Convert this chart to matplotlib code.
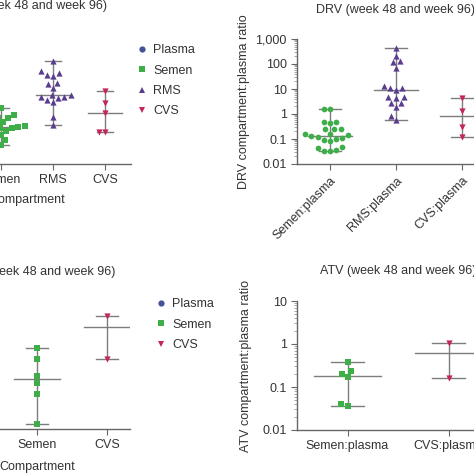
import numpy as np
import matplotlib
matplotlib.use("Agg")
import matplotlib.pyplot as plt
from matplotlib.lines import Line2D
from matplotlib.ticker import FuncFormatter, LogLocator, NullFormatter

plt.rcParams['font.family'] = ['Liberation Sans', 'DejaVu Sans']
plt.rcParams['font.size'] = 9

# --- data ---
# top left: DRV concentrations by compartment (y axis is cut off, values estimated)
tl_cats = ["Plasma", "Semen", "RMS", "CVS"]
tl_semen = [1740, 900, 900, 690, 690, 480, 480, 480, 330, 330, 330, 300,
            280, 280, 280, 210, 210, 145, 145, 90, 58, 58]
tl_rms = [130000, 52000, 44000, 36000, 33000, 17000, 16000, 11000, 5800,
          5800, 4800, 4800, 4400, 3600, 3000, 760, 360]
tl_cvs = [8300, 2750, 1100, 190, 190]

# top right: DRV compartment:plasma ratio
tr_cats = ["Semen:plasma", "RMS:plasma", "CVS:plasma"]
tr_semen = [1.6, 1.6, 0.5, 0.5, 0.45, 0.25, 0.25, 0.24, 0.16, 0.16, 0.14,
            0.13, 0.12, 0.11, 0.1, 0.09, 0.08, 0.048, 0.045, 0.035, 0.034, 0.033]
tr_rms = [440, 210, 130, 120, 70, 13, 11, 11, 9, 4.8, 4.8, 4.4, 2.8, 2.8,
          1.9, 0.83, 0.58]
tr_cvs = [4.2, 1.3, 0.3, 0.12]

# bottom left: ATV concentrations by compartment
bl_cats = ["Plasma", "Semen", "CVS"]
bl_semen = [760, 425, 170, 117, 65, 13]
bl_cvs = [4200, 425]

# bottom right: ATV compartment:plasma ratio
br_cats = ["Semen:plasma", "CVS:plasma"]
br_semen = [0.38, 0.23, 0.20, 0.17, 0.040, 0.036]
br_cvs = [1.05, 0.16]

C_PLASMA = "#44529c"
C_SEMEN = "#3fae49"
C_RMS = "#5a3d8f"
C_CVS = "#c4245a"
C_BAR = "#7d7d7d"
C_AX = "#666666"
C_TXT = "#333333"

W = H = 474
fig = plt.figure(figsize=(4.74, 4.74), dpi=100)


def box(x, top, w, h):
    return [x / W, 1 - (top + h) / H, w / W, h / H]


def style(ax, cats, xlim, ylim):
    ax.set_yscale('log')
    ax.set_ylim(ylim)
    ax.set_xlim(xlim)
    for s in ('top', 'right'):
        ax.spines[s].set_visible(False)
    for s in ('left', 'bottom'):
        ax.spines[s].set_color(C_AX)
        ax.spines[s].set_linewidth(1)
    ax.set_xticks(range(len(cats)))
    ax.set_xticklabels(cats)
    ax.yaxis.set_major_locator(LogLocator(base=10, numticks=20))
    ax.yaxis.set_minor_locator(LogLocator(base=10, subs=np.arange(2, 10), numticks=20))
    ax.yaxis.set_minor_formatter(NullFormatter())
    ax.yaxis.set_major_formatter(FuncFormatter(
        lambda v, p: f"{v:,.0f}" if v >= 1 else f"{v:g}"))
    ax.tick_params(which='major', length=4, color=C_AX, labelcolor=C_TXT, labelsize=9)
    ax.tick_params(which='minor', length=2.5, color='#999999')
    ax.tick_params(axis='x', which='minor', length=0)


def swarm_x(ax, xc, vals, d=6.5):
    # simple beeswarm, built from the bottom up
    ys = ax.transData.transform(np.column_stack([np.full(len(vals), xc), vals]))[:, 1]
    ppu = ax.transData.transform((1, 1))[0] - ax.transData.transform((0, 1))[0]
    offs = np.zeros(len(vals))
    placed = []
    for i in np.argsort(ys):
        bad = []
        for px, py in placed:
            dy = abs(ys[i] - py)
            if dy < d:
                r = np.sqrt(d * d - dy * dy)
                bad.append((px - r, px + r))
        cands = sorted([0.0] + [e for b in bad for e in b], key=abs)
        for c in cands:
            if all(not (lo + 1e-6 < c < hi - 1e-6) for lo, hi in bad):
                offs[i] = c
                break
        placed.append((offs[i], ys[i]))
    return xc + offs / ppu


def group(ax, xc, vals, color, marker, size=17):
    lo, med, hi = np.min(vals), np.median(vals), np.max(vals)
    ax.plot([xc, xc], [lo, hi], color=C_BAR, lw=1, zorder=1)
    for v, hw in ((lo, 0.16), (hi, 0.16), (med, 0.33)):
        ax.plot([xc - hw, xc + hw], [v, v], color=C_BAR, lw=1, zorder=1)
    xs = swarm_x(ax, xc, vals)
    ax.scatter(xs, vals, s=size, marker=marker, color=color, linewidths=0, zorder=3)


# --- top left ---
ax1 = fig.add_axes(box(-77, 39, 208, 125))
style(ax1, tl_cats, (-0.5, 3.5), (10, 1e6))
group(ax1, 1, tl_semen, C_SEMEN, 's')
group(ax1, 2, tl_rms, C_RMS, '^', 20)
group(ax1, 3, tl_cvs, C_CVS, 'v', 20)
ax1.set_xlabel("Compartment", color=C_TXT, fontsize=9)
ax1.xaxis.set_label_coords(0.5, -0.24)
fig.text(27 / W, 1 - 6 / H, "DRV (week 48 and week 96)", ha='center', va='center',
         color=C_TXT, fontsize=9)

# --- top right ---
ax2 = fig.add_axes(box(297, 39, 198, 125))
style(ax2, tr_cats, (-0.5, 2.5), (0.01, 1000))
group(ax2, 0, tr_semen, C_SEMEN, 'o')
group(ax2, 1, tr_rms, C_RMS, '^', 20)
group(ax2, 2, tr_cvs, C_CVS, 'v', 20)
for lab in ax2.get_xticklabels():
    lab.set_rotation(45)
    lab.set_ha('right')
    lab.set_va('top')
    lab.set_rotation_mode('anchor')
ax2.set_ylabel("DRV compartment:plasma ratio", color=C_TXT, fontsize=9)
ax2.yaxis.set_label_coords(-0.237, 0.5)
fig.text(396 / W, 1 - 10 / H, "DRV (week 48 and week 96)", ha='center', va='center',
         color=C_TXT, fontsize=9)

# --- bottom left ---
ax3 = fig.add_axes(box(-56, 300, 186, 129))
style(ax3, bl_cats, (-0.33, 2.33), (10, 1e4))
group(ax3, 1, bl_semen, C_SEMEN, 's', 20)
group(ax3, 2, bl_cvs, C_CVS, 'v', 20)
ax3.set_xlabel("Compartment", color=C_TXT, fontsize=9)
ax3.xaxis.set_label_coords(0.5, -0.248)
fig.text(37 / W, 1 - 272 / H, "ATV (week 48 and week 96)", ha='center', va='center',
         color=C_TXT, fontsize=9)

# --- bottom right ---
ax4 = fig.add_axes(box(297, 301, 202, 129))
style(ax4, br_cats, (-0.5, 1.5), (0.01, 10))
group(ax4, 0, br_semen, C_SEMEN, 's', 24)
group(ax4, 1, br_cvs, C_CVS, 'v', 20)
ax4.set_ylabel("ATV compartment:plasma ratio", color=C_TXT, fontsize=9)
ax4.yaxis.set_label_coords(-0.223, 0.5)
fig.text(398 / W, 1 - 271 / H, "ATV (week 48 and week 96)", ha='center', va='center',
         color=C_TXT, fontsize=9)

# --- legends ---
def mk(marker, color, label):
    return Line2D([], [], linestyle='none', marker=marker, color=color,
                  markersize=4.5, markeredgewidth=0, label=label)


leg_kw = dict(frameon=False, loc='upper left', borderpad=0, borderaxespad=0,
              handlelength=0.8, handletextpad=0.5, labelspacing=0.68,
              fontsize=9, labelcolor=C_TXT)
fig.legend(handles=[mk('o', C_PLASMA, "Plasma"), mk('s', C_SEMEN, "Semen"),
                    mk('^', C_RMS, "RMS"), mk('v', C_CVS, "CVS")],
           bbox_to_anchor=(137 / W, 1 - 44 / H), **leg_kw)
fig.legend(handles=[mk('o', C_PLASMA, "Plasma"), mk('s', C_SEMEN, "Semen"),
                    mk('v', C_CVS, "CVS")],
           bbox_to_anchor=(156 / W, 1 - 298 / H), **leg_kw)

fig.savefig("out.png", dpi=100)
